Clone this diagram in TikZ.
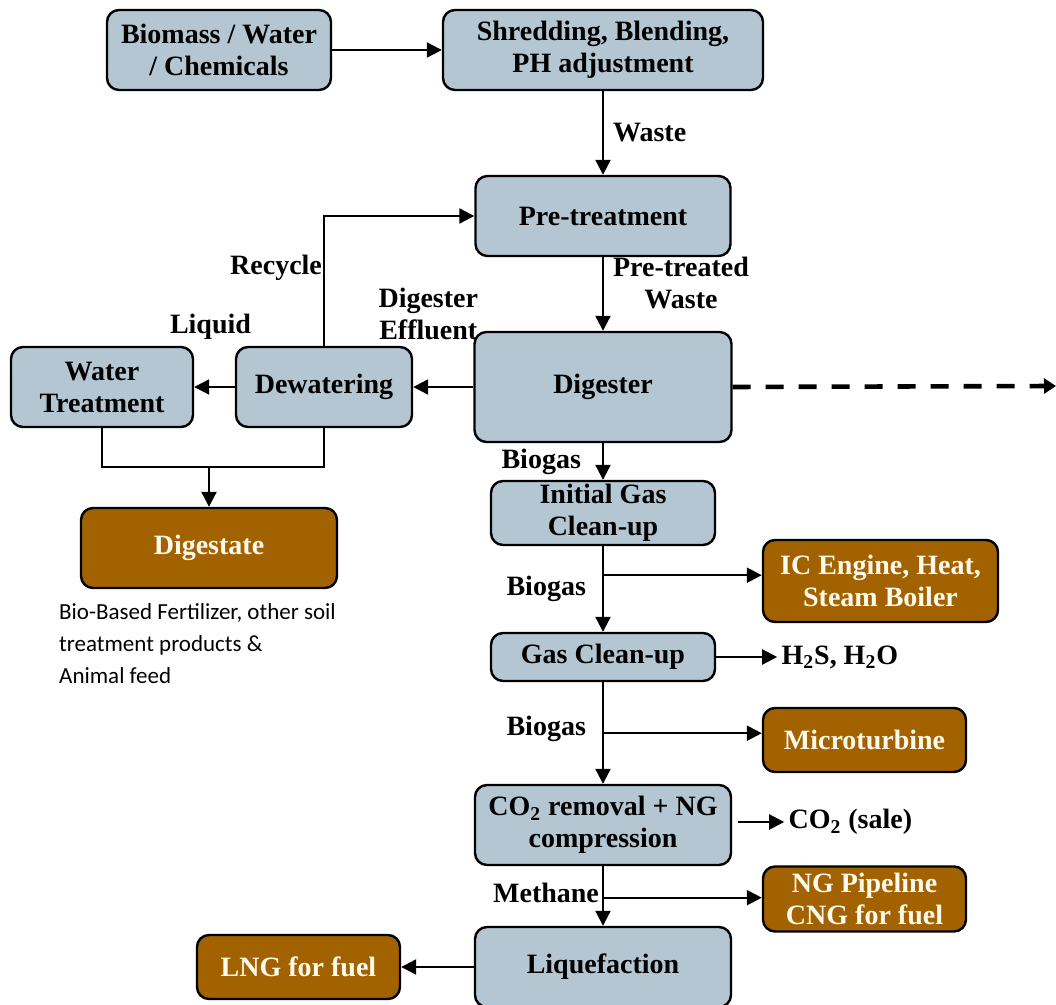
\documentclass[tikz,border=0pt]{standalone}
\usepackage{fontspec}
\setmainfont{Liberation Serif}
\newfontfamily\notefont{Carlito}
\usetikzlibrary{arrows.meta,calc,positioning}

\definecolor{procblue}{RGB}{179,198,210}
\definecolor{prodbrown}{RGB}{163,98,0}
\definecolor{prodtext}{RGB}{255,250,236}

\tikzset{
  proc/.style={draw, line width=1.2pt, rounded corners=6pt, fill=procblue,
    align=center, inner sep=0pt, font=\fontsize{14}{16}\selectfont\bfseries},
  prod/.style={proc, fill=prodbrown, text=prodtext},
  lbl/.style={align=center, inner sep=2pt, font=\fontsize{14}{16}\selectfont\bfseries},
  note/.style={align=left, inner sep=0pt, font=\notefont\fontsize{11.5}{16}\selectfont},
  pipe/.style={line width=1.1pt},
  flow/.style={pipe, -{Triangle[length=7.5pt,width=7.5pt]}},
  spill/.style={line width=2.3pt, dash pattern=on 9pt off 7.5pt, -{Triangle[length=6pt,width=7.5pt]}},
}

\begin{document}
\begin{tikzpicture}[node distance=80pt, on grid]
\useasboundingbox (0,0) rectangle (528pt,-502.5pt);

% main process line
\node[proc, minimum width=160pt, minimum height=40pt] (shred) at (301.5pt,-25pt) {Shredding, Blending,\\PH adjustment};
\node[proc, minimum width=112pt, minimum height=40pt] (biomass) [left=192pt of shred] {Biomass / Water\\/ Chemicals};
\node[proc, minimum width=127.5pt, minimum height=40pt] (pretreat) [below=83pt of shred] {Pre-treatment};
\node[proc, minimum width=128.5pt, minimum height=55pt] (digester) [below=85.5pt of pretreat] {Digester};
\node[proc, minimum width=112pt, minimum height=32pt] (initgas) [below=63pt of digester] {Initial Gas\\Clean-up};
\node[proc, minimum width=112pt, minimum height=24pt] (gasclean) [below=72pt of initgas] {Gas Clean-up};
\node[proc, minimum width=128pt, minimum height=40pt] (co2rem) [below=84pt of gasclean] {CO\textsubscript{2} removal + NG\\compression};
\node[proc, minimum width=128pt, minimum height=40pt] (liquef) [below=71pt of co2rem] {Liquefaction};

% solids side
\node[proc, minimum width=88pt, minimum height=40pt] (dewater) [left=139.5pt of digester] {Dewatering};
\node[proc, minimum width=91pt, minimum height=40pt] (water) [left=111pt of dewater] {Water\\Treatment};
\node[prod, minimum width=128pt, minimum height=40pt] (digestate) [below right=80.5pt and 53.5pt of water] {Digestate};
\node[note, anchor=north west] (usenote) at ($(digestate.south west)+(-10.5pt,-7pt)$) {Bio-Based Fertilizer, other soil\\treatment products \&\\Animal feed};

% products
\node[prod, minimum width=117.5pt, minimum height=41pt] (engine) [below right=34pt and 138.75pt of initgas] {IC Engine, Heat,\\Steam Boiler};
\node[prod, minimum width=101.5pt, minimum height=32pt] (turbine) [below right=41.5pt and 130.75pt of gasclean] {Microturbine};
\node[prod, minimum width=101.5pt, minimum height=32.5pt] (pipeline) [below right=37pt and 130.75pt of co2rem] {NG Pipeline\\CNG for fuel};
\node[prod, minimum width=101.5pt, minimum height=32pt] (lng) [left=152.25pt of liquef] {LNG for fuel};
\node[lbl, anchor=west] (sulfur) at ($(gasclean.east)+(30.5pt,0)$) {H\textsubscript{2}S, H\textsubscript{2}O};
\node[lbl, anchor=west] (co2sale) at ($(co2rem.east)+(26pt,1.5pt)$) {CO\textsubscript{2} (sale)};

\node[lbl] (effluent) at ($(digester.north west)+(-22.5pt,8.5pt)$) {Digester\\Effluent};
\node[lbl] (liquid) at ($(water.east)!0.5!(dewater.west)+(-2pt,30pt)$) {Liquid};

\coordinate (tapengine) at ($(initgas.south)+(0,-14.5pt)$);
\coordinate (tapturbine) at ($(gasclean.south)+(0,-25.5pt)$);
\coordinate (tappipe) at ($(co2rem.south)+(0,-15.75pt)$);
\coordinate (join) at ($(dewater.south -| digestate.north)+(0,-19.5pt)$);
\coordinate (offpage) at (528pt,-193pt);

\path[flow]
  (biomass) edge (shred)
  (shred) edge node[lbl, right=2.5pt] {Waste} (pretreat)
  (pretreat) edge node[lbl, right=2.5pt, yshift=5.5pt] {Pre-treated\\Waste} (digester)
  (digester) edge (dewater)
  (dewater) edge (water)
  (digester) edge node[lbl, left=8.5pt] {Biogas} (initgas)
  (initgas) edge node[lbl, left=6pt] {Biogas} (gasclean)
  (gasclean) edge node[lbl, left=6pt, yshift=2pt] {Biogas} (co2rem)
  (co2rem) edge node[lbl, left=0.5pt, inner sep=1pt, yshift=1.5pt] {Methane} (liquef)
  (liquef) edge (lng)
  (gasclean) edge (sulfur)
  (tapengine) edge (tapengine -| engine.west)
  (tapturbine) edge (tapturbine -| turbine.west)
  (tappipe) edge (tappipe -| pipeline.west)
  (join) edge (digestate);
\draw[flow, shorten <=3pt] (co2rem.east |- co2sale.west) -- (co2sale.west);
\draw[flow] (dewater.north) |- node[lbl, left, pos=0.3, inner sep=0.5pt] {Recycle} (pretreat.west);
\draw[pipe] (water.south) |- (join) -| (dewater.south);
\draw[spill] (digester.east) -- (offpage);
\end{tikzpicture}
\end{document}
